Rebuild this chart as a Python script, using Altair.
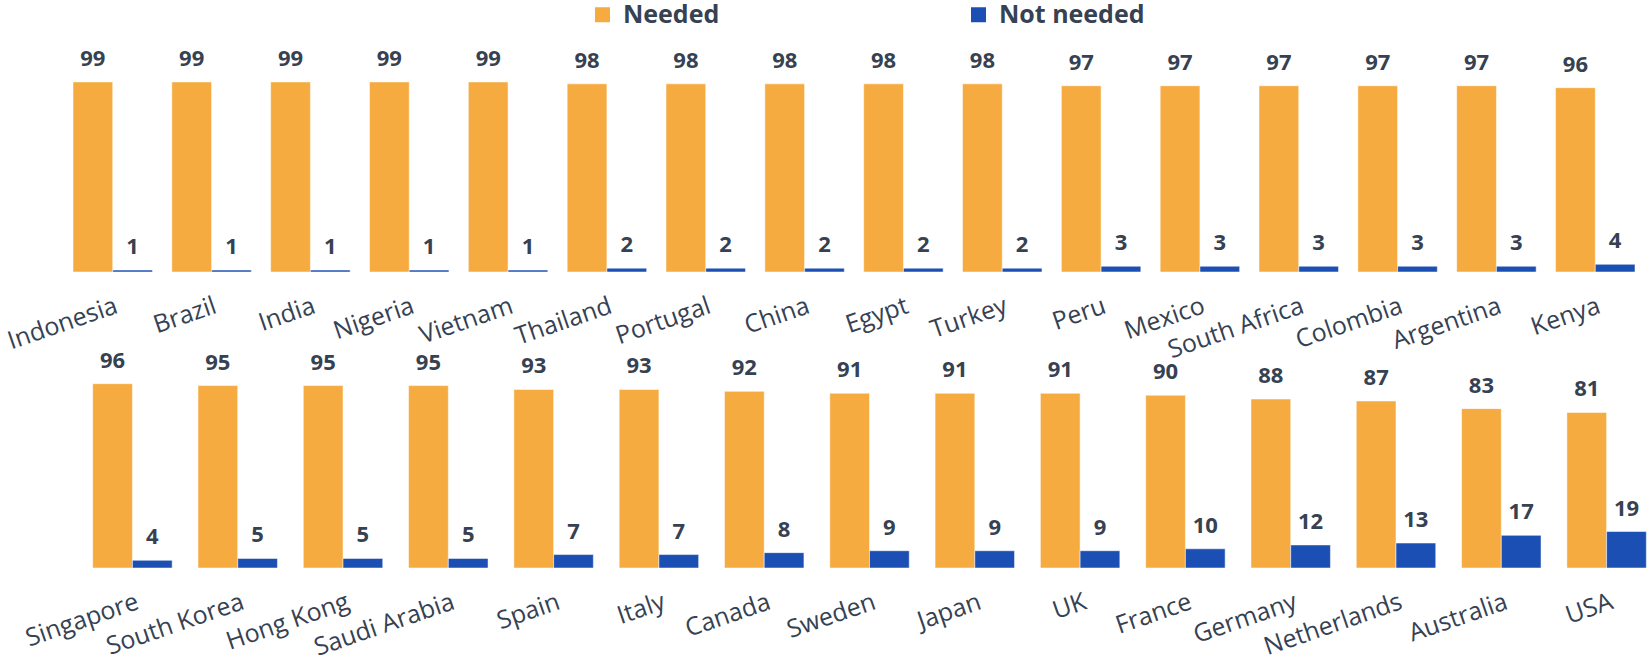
import altair as alt
import pandas as pd

series = ["Needed", "Not needed"]
colors = ["#F5AB40", "#1C4FB4"]

top_countries = ["Indonesia", "Brazil", "India", "Nigeria", "Vietnam", "Thailand", "Portugal",
                 "China", "Egypt", "Turkey", "Peru", "Mexico", "South Africa", "Colombia",
                 "Argentina", "Kenya"]
top_needed = [99, 99, 99, 99, 99, 98, 98, 98, 98, 98, 97, 97, 97, 97, 97, 96]
top_not_needed = [1, 1, 1, 1, 1, 2, 2, 2, 2, 2, 3, 3, 3, 3, 3, 4]

bottom_countries = ["Singapore", "South Korea", "Hong Kong", "Saudi Arabia", "Spain", "Italy",
                    "Canada", "Sweden", "Japan", "UK", "France", "Germany", "Netherlands",
                    "Australia", "USA"]
bottom_needed = [96, 95, 95, 95, 93, 93, 92, 91, 91, 91, 90, 88, 87, 83, 81]
bottom_not_needed = [4, 5, 5, 5, 7, 7, 8, 9, 9, 9, 10, 12, 13, 17, 19]

FONT = "Segoe UI, Open Sans"
TEXT = "#364152"


def make_df(countries, needed, not_needed):
    rows = []
    for c, a, b in zip(countries, needed, not_needed):
        rows.append({"Country": c, "Series": series[0], "Value": a})
        rows.append({"Country": c, "Series": series[1], "Value": b})
    return pd.DataFrame(rows)


legend = alt.Legend(
    orient="none", legendX=517, legendY=-78, direction="horizontal", title=None,
    symbolType="square", symbolSize=225, symbolStrokeWidth=0,
    labelFont=FONT, labelFontSize=25, labelFontWeight="bold", labelColor=TEXT,
    columnPadding=246, labelOffset=8, padding=0,
)


def panel(df, countries, width, pi, po, align):
    base = alt.Chart(df).encode(
        x=alt.X("Country:N", sort=countries,
                scale=alt.Scale(paddingInner=pi, paddingOuter=po, align=align),
                axis=alt.Axis(title=None, labelAngle=-19, domain=False, ticks=False,
                              tickSize=0, labelPadding=21, labelFont=FONT,
                              labelFontSize=25, labelColor=TEXT, labelLimit=300)),
        xOffset=alt.XOffset("Series:N", sort=series),
        y=alt.Y("Value:Q", scale=alt.Scale(domain=[0, 100]), axis=None),
    )
    bars = base.mark_bar(stroke="white", strokeWidth=1, strokeOpacity=0.5).encode(
        color=alt.Color("Series:N", sort=series,
                        scale=alt.Scale(domain=series, range=colors), legend=legend)
    )
    labels = base.mark_text(dy=-16, baseline="alphabetic", font=FONT, fontSize=22,
                            fontWeight="bold", color=TEXT).encode(text="Value:Q")
    return (bars + labels).properties(width=width, height=192)


top = panel(make_df(top_countries, top_needed, top_not_needed), top_countries,
            1562, 0.196, 0, 0.5)
bottom = panel(make_df(bottom_countries, bottom_needed, bottom_not_needed), bottom_countries,
               1576, 0.22, 0.0935, 1)

chart = alt.vconcat(top, bottom, spacing=104, bounds="flush").properties(
    padding={"left": 4, "top": 2, "right": 0, "bottom": 0}
).configure_view(stroke=None)

chart.save("out.html", embed_options={"renderer": "svg", "actions": False})
